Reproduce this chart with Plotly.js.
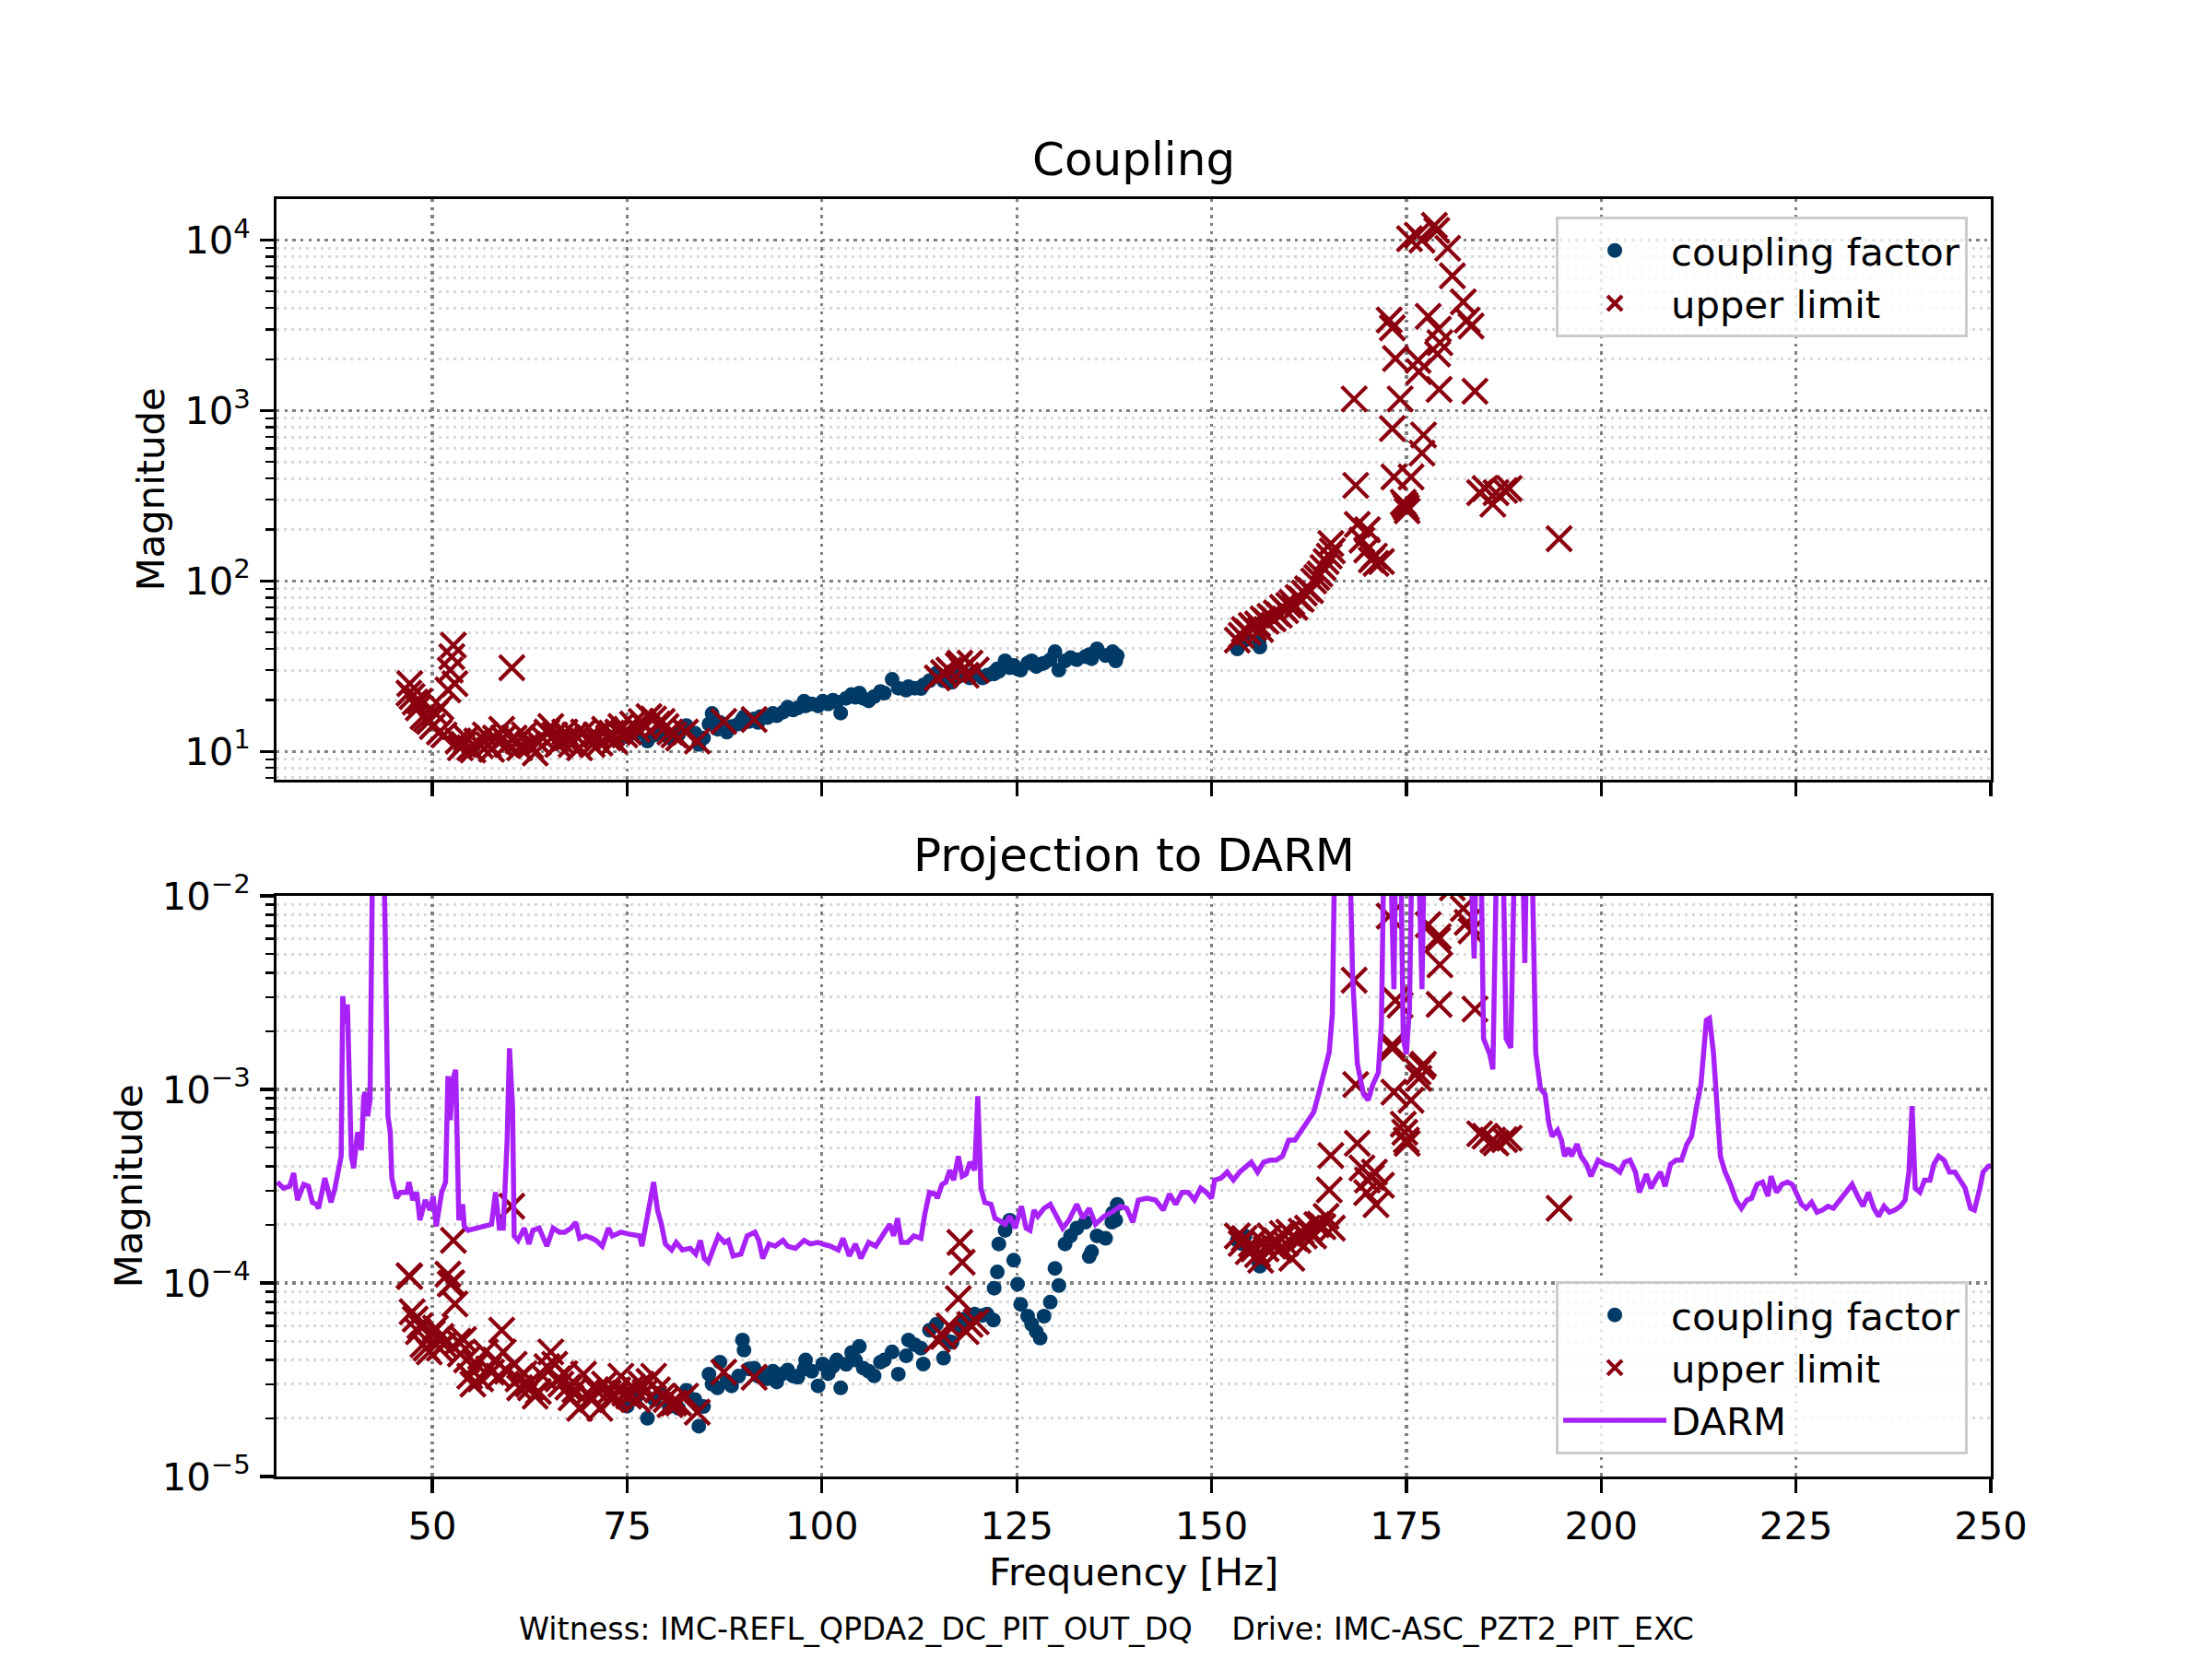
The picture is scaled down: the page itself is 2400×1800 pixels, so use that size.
<!DOCTYPE html>
<html><head><meta charset="utf-8">
<script src="https://cdn.plot.ly/plotly-3.0.1.min.js"></script>
<style>html,body{margin:0;padding:0;background:#fff}</style>
</head><body>
<div id="chart" style="width:2400px;height:1800px"></div>
<script>
// ---------- DATA ----------
const cfFreq = [75.0,76.2,77.6,78.5,79.3,80.4,81.6,82.6,83.7,84.2,84.8,85.5,85.9,86.6,86.9,87.8,88.4,89.3,89.8,90.0,90.6,91.3,91.8,92.1,93.0,93.7,94.2,95.0,95.6,96.3,96.9,97.7,97.9,98.7,99.5,100.1,100.8,101.4,101.9,102.4,103.1,103.8,104.3,104.8,105.3,106.0,106.7,107.5,108.0,109.0,109.8,110.8,111.1,111.9,112.7,113.0,113.8,114.7,115.6,116.2,116.7,117.5,118.3,119.0,119.6,120.6,121.2,122.0,122.1,122.5,122.7,123.5,124.1,124.6,125.1,125.5,126.4,126.9,127.5,128.0,128.5,129.3,129.9,130.4,131.2,131.9,132.7,133.8,134.3,134.6,135.3,136.4,137.2,137.3,137.7,137.9,153.3,153.8,154.3,156.1,156.2];
const cfCoupling = [12.2,12.8,11.5,12.5,13.0,12.0,12.6,14.2,12.8,11.0,12.0,14.5,16.7,13.5,14.8,13.0,14.0,14.5,15.5,16.0,15.0,15.5,14.8,16.0,15.8,16.7,16.2,17.0,18.2,17.5,18.0,19.7,18.5,19.0,18.5,19.7,19.0,20.0,19.5,16.8,20.5,21.6,20.8,22.0,20.5,19.8,21.0,22.5,22.0,26.5,23.5,22.9,24.0,23.5,23.4,24.5,26.0,28.8,26.0,27.0,25.5,27.5,28.0,27.0,29.0,27.0,28.0,29.0,28.5,30.5,29.5,34.0,31.0,32.0,30.5,30.0,33.0,34.0,31.5,32.5,33.0,34.5,38.5,30.0,34.0,35.5,34.5,36.0,37.0,35.0,40.0,36.5,37.5,38.5,34.0,36.5,40.0,44.0,45.0,43.6,41.0];
const cfProjection = [2.31e-5,2.6e-5,2.0e-5,2.5e-5,2.7e-5,2.3e-5,2.25e-5,2.79e-5,2.5e-5,1.82e-5,2.3e-5,3.38e-5,3.0e-5,2.87e-5,3.9e-5,3.1e-5,2.94e-5,3.3e-5,5.07e-5,4.5e-5,3.6e-5,3.63e-5,3.3e-5,3.38e-5,3.2e-5,3.5e-5,3.08e-5,3.4e-5,3.55e-5,3.3e-5,3.26e-5,3.6e-5,4.0e-5,3.5e-5,2.94e-5,3.81e-5,3.4e-5,3.7e-5,4.0e-5,2.87e-5,3.8e-5,4.37e-5,4.0e-5,4.7e-5,3.63e-5,3.5e-5,3.31e-5,3.9e-5,4.0e-5,4.4e-5,3.38e-5,4.2e-5,5.07e-5,4.8e-5,4.6e-5,3.81e-5,5.7e-5,6.12e-5,4.09e-5,5.0e-5,4.94e-5,6.0e-5,6.5e-5,6.6e-5,6.9e-5,6.8e-5,6.9e-5,6.43e-5,9.4e-5,1.14e-4,1.59e-4,1.87e-4,2.11e-4,1.31e-4,9.86e-5,7.76e-5,6.74e-5,6.12e-5,5.6e-5,5.19e-5,6.74e-5,7.96e-5,1.19e-4,9.7e-5,1.59e-4,1.75e-4,1.92e-4,2.06e-4,1.37e-4,1.45e-4,1.75e-4,1.70e-4,2.06e-4,2.3e-4,2.11e-4,2.55e-4,1.66e-4,1.6e-4,1.75e-4,1.25e-4,1.22e-4];

const ulFreq = [47.0,47.1,47.4,47.8,48.2,48.4,48.8,49.2,49.6,50.0,50.4,50.9,51.1,51.5,52.0,52.3,52.5,52.7,52.9,53.3,53.6,54.0,54.4,54.8,55.2,55.7,56.2,56.8,57.2,57.6,58.1,58.5,58.9,59.1,59.6,60.2,60.5,61.0,61.2,61.8,62.3,62.6,63.2,63.6,64.2,64.7,65.2,65.7,66.1,66.5,67.0,67.4,67.8,68.3,68.9,69.4,69.9,70.5,71.0,71.5,72.1,72.6,73.0,73.4,73.8,74.2,74.7,75.2,75.7,76.3,76.8,77.3,77.8,78.4,78.9,79.5,80.0,80.5,81.0,81.6,82.5,84.0,87.4,91.3,114.8,115.6,116.3,117.5,117.7,118.0,118.5,119.0,119.8,153.3,153.8,154.2,154.7,155.1,155.4,155.9,156.3,156.6,157.0,157.5,157.9,158.3,158.7,159.1,159.5,159.9,160.3,160.7,161.1,161.5,161.9,162.3,162.7,163.1,163.5,163.9,164.3,164.7,165.1,165.3,165.5,168.3,168.5,168.7,169.3,169.9,170.0,170.5,170.9,171.1,171.8,172.8,173.2,173.2,173.4,173.6,174.2,174.6,174.8,175.0,175.1,175.4,175.6,176.4,176.5,176.6,177.0,177.0,177.2,177.8,178.6,178.9,179.0,179.1,179.2,179.3,180.3,180.9,182.3,182.8,183.3,183.8,184.4,185.1,186.1,186.5,187.6,188.2,194.6];
const ulCoupling = [22,25,21,19.5,18,19.7,16,15.5,15,14,16.7,13,18.2,12.5,23,30,36,42,25,11.5,10.5,11,12,10.5,10.2,11.5,10.8,12.5,11,10.3,12,11.3,13.5,12,11,31,12,11.5,10.5,12.5,11,10.8,9.8,11.3,12,13,14,12.5,11,11.5,13,12,11,12.5,10.5,13,11.8,11,12.5,11.2,13.5,12,12.8,11.5,13,14,12.5,13,14.5,13.5,15,14,16,15.5,14.5,15,14,13,12.5,12,13,11.5,15,15.4,27,29,30,32,33,30,28,33,30,45,48,52,50,55,53,56,52,60,58,62,60,65,63,70,67,72,75,70,80,78,85,90,88,100,105,110,120,130,140,166,150,1170,364,215,174,152,200,133,140,127,130,3400,3060,785,408,2020,1170,290,280,270,258,10200,408,10700,1970,1690,10000,563,720,3570,12200,11400,2150,3000,1330,2500,8960,6170,4350,3400,3130,1300,330,349,282,330,340,349,177];
const ulProjection = [1.09e-4,1.08e-4,7.1e-5,6.5e-5,5.6e-5,6.0e-5,4.8e-5,4.6e-5,4.4e-5,5.5e-5,5.85e-5,4.6e-5,5.3e-5,4.8e-5,1.11e-4,9.9e-5,1.0e-4,1.66e-4,7.8e-5,5.0e-5,4.3e-5,5.1e-5,4.0e-5,3.3e-5,3.0e-5,3.8e-5,3.2e-5,4.4e-5,3.6e-5,3.46e-5,4.0e-5,3.3e-5,5.7e-5,4.4e-5,3.5e-5,2.49e-4,3.8e-5,3.2e-5,2.87e-5,3.4e-5,3.0e-5,2.87e-5,2.6e-5,2.75e-5,3.3e-5,3.7e-5,4.4e-5,3.8e-5,3.2e-5,3.0e-5,3.4e-5,2.9e-5,2.55e-5,2.8e-5,2.25e-5,3.38e-5,2.7e-5,2.5e-5,2.8e-5,2.25e-5,3.0e-5,2.7e-5,2.5e-5,2.6e-5,2.8e-5,3.3e-5,2.7e-5,2.6e-5,2.9e-5,2.5e-5,3.0e-5,2.73e-5,3.1e-5,3.3e-5,2.8e-5,2.6e-5,2.5e-5,2.35e-5,2.4e-5,2.4e-5,2.6e-5,2.15e-5,3.46e-5,3.26e-5,5.1e-5,5.3e-5,6.0e-5,8.3e-5,1.62e-4,1.28e-4,5.6e-5,6.1e-5,6.3e-5,1.75e-4,1.6e-4,1.7e-4,1.45e-4,1.59e-4,1.5e-4,1.4e-4,1.31e-4,1.62e-4,1.5e-4,1.75e-4,1.55e-4,1.65e-4,1.48e-4,1.8e-4,1.6e-4,1.83e-4,1.34e-4,1.7e-4,1.66e-4,1.85e-4,1.75e-4,1.92e-4,1.8e-4,1.75e-4,2.0e-4,2.01e-4,1.95e-4,2.21e-4,3.03e-4,4.55e-4,1.92e-4,3.67e-3,1.06e-3,5.26e-4,3.93e-4,2.93e-4,3.4e-4,3.52e-4,3.74e-4,2.54e-4,3.2e-4,7.85e-3,1.63e-3,1.7e-3,9.68e-4,2.89e-3,2.73e-3,6.61e-4,6.0e-4,5.47e-4,5.26e-4,1.3e-2,8.8e-4,1.4e-2,1.23e-3,1.14e-3,1.5e-2,1.31e-3,1.35e-3,7.1e-3,1.6e-2,1.5e-2,5.9e-3,6.16e-3,2.75e-3,4.4e-3,1.2e-2,1.1e-2,8.6e-3,7.3e-3,6.6e-3,2.6e-3,5.9e-4,5.73e-4,5.47e-4,5.3e-4,5.5e-4,5.6e-4,2.43e-4];

const darmFreq = [30.1,30.9,31.7,32.2,32.7,33.5,34.1,34.6,35.1,35.4,36.2,37.0,37.5,38.0,38.3,38.5,38.8,39.1,39.4,39.6,39.9,40.4,40.9,41.2,41.4,41.7,42.0,42.4,43.0,43.6,43.9,44.1,44.3,44.6,44.8,45.4,45.9,46.7,47.0,47.5,48.0,48.4,49.1,49.7,50.1,50.5,51.2,51.7,52.0,52.3,52.6,53.0,53.2,53.4,53.9,54.1,54.6,55.7,56.8,57.6,58.1,58.6,59.1,59.6,59.9,60.3,60.5,61.0,61.8,62.4,62.9,63.7,64.7,65.5,66.3,67.0,67.8,68.4,68.9,69.7,70.5,71.0,71.8,72.6,73.1,74.2,75.2,76.6,76.9,77.4,77.9,78.4,78.9,79.4,79.9,80.7,81.3,82.1,83.1,83.8,84.4,84.9,85.4,86.2,86.7,87.5,88.0,88.6,89.6,90.4,91.4,91.9,92.4,93.2,94.0,95.0,95.6,96.6,97.7,98.5,99.5,100.3,101.1,102.1,102.7,103.5,104.3,105.0,106.0,106.9,107.7,108.2,108.7,109.2,109.7,110.2,111.0,111.8,112.7,113.2,113.8,114.6,114.8,115.4,115.9,116.4,116.9,117.5,118.0,118.5,119.0,119.6,120.0,120.4,120.9,121.7,122.2,122.7,123.5,124.1,124.8,125.6,126.2,126.7,127.2,127.7,128.5,129.3,130.1,130.9,131.7,132.7,133.5,134.3,135.1,136.2,137.2,138.3,139.1,139.9,140.6,141.7,142.8,143.8,144.6,145.4,146.2,147.0,147.8,148.6,149.3,150.0,150.4,151.2,152.0,152.8,153.6,154.3,155.1,155.9,156.7,157.5,158.3,159.1,159.9,160.7,161.5,162.3,163.1,163.8,164.6,165.1,165.5,165.9,166.8,167.6,168.1,168.7,169.5,170.1,170.7,171.4,171.8,172.2,172.8,173.4,173.7,174.2,174.6,175.0,175.4,175.8,176.4,177.0,177.4,178.5,180.0,181.5,183.0,183.7,184.1,184.5,184.9,185.7,186.1,186.7,187.3,187.8,188.4,189.0,189.8,190.2,190.5,191.0,191.6,192.2,192.8,193.3,193.7,194.4,194.9,195.3,195.8,196.2,196.9,197.4,198.1,198.7,199.6,200.5,201.4,202.4,203.0,203.7,204.4,204.9,205.8,206.4,207.1,207.6,208.2,208.9,209.6,210.3,211.0,211.6,212.3,212.8,213.5,213.9,214.4,214.8,215.3,215.9,216.6,217.3,218.0,218.7,219.3,220.0,220.7,221.4,221.8,222.5,223.2,223.9,224.5,225.0,225.7,226.3,227.0,227.7,228.4,229.1,229.8,230.4,231.3,232.2,232.9,233.6,234.3,235.0,235.6,236.3,237.0,237.7,238.4,239.0,239.5,239.9,240.3,240.9,241.5,242.2,242.7,243.3,244.0,244.7,245.4,246.1,246.7,247.4,247.9,248.6,249.0,249.7,250.0];
const darmASD = [3.32e-4,3.09e-4,3.16e-4,3.70e-4,2.68e-4,3.23e-4,3.16e-4,2.61e-4,2.55e-4,2.43e-4,3.48e-4,2.61e-4,3.09e-4,4.11e-4,4.52e-4,3.03e-3,2.2e-3,2.75e-3,1.2e-3,4.52e-4,3.92e-4,6.01e-4,4.85e-4,9.22e-4,9.68e-4,7.27e-4,8.8e-4,3e-2,5e-2,3e-2,8.6e-3,1.71e-3,7.27e-4,6.01e-4,3.48e-4,2.74e-4,2.94e-4,2.94e-4,3.32e-4,2.68e-4,2.94e-4,2.11e-4,2.68e-4,2.38e-4,2.81e-4,1.96e-4,2.94e-4,3.32e-4,1.17e-3,6.93e-4,1.12e-3,1.26e-3,6.61e-4,2.11e-4,2.55e-4,1.96e-4,1.87e-4,1.92e-4,1.96e-4,2.01e-4,2.94e-4,1.92e-4,1.92e-4,5.47e-4,1.63e-3,8.0e-4,1.75e-4,1.66e-4,1.92e-4,1.59e-4,1.87e-4,1.92e-4,1.55e-4,1.92e-4,1.83e-4,1.83e-4,1.92e-4,2.06e-4,1.70e-4,1.75e-4,1.70e-4,1.66e-4,1.55e-4,1.92e-4,1.75e-4,1.83e-4,1.79e-4,1.75e-4,1.55e-4,2.01e-4,2.68e-4,3.32e-4,2.38e-4,2.01e-4,1.59e-4,1.48e-4,1.62e-4,1.48e-4,1.51e-4,1.41e-4,1.66e-4,1.34e-4,1.28e-4,1.59e-4,1.75e-4,1.62e-4,1.66e-4,1.38e-4,1.41e-4,1.75e-4,1.83e-4,1.66e-4,1.34e-4,1.59e-4,1.55e-4,1.66e-4,1.55e-4,1.51e-4,1.66e-4,1.59e-4,1.62e-4,1.58e-4,1.55e-4,1.48e-4,1.70e-4,1.38e-4,1.59e-4,1.34e-4,1.62e-4,1.55e-4,1.75e-4,1.87e-4,2.01e-4,1.75e-4,2.16e-4,1.62e-4,1.62e-4,1.75e-4,1.70e-4,2.27e-4,2.94e-4,2.88e-4,2.74e-4,3.23e-4,3.32e-4,3.83e-4,3.40e-4,4.52e-4,3.56e-4,3.65e-4,4.21e-4,3.83e-4,9.22e-4,3.09e-4,2.61e-4,2.55e-4,2.16e-4,2.11e-4,2.01e-4,2.21e-4,1.92e-4,2.49e-4,1.92e-4,1.87e-4,2.38e-4,2.21e-4,2.43e-4,2.55e-4,2.21e-4,1.92e-4,2.11e-4,2.55e-4,2.16e-4,2.43e-4,2.01e-4,2.21e-4,2.32e-4,2.49e-4,2.43e-4,2.06e-4,2.68e-4,2.74e-4,2.68e-4,2.38e-4,2.88e-4,2.55e-4,2.94e-4,2.94e-4,2.68e-4,3.09e-4,2.94e-4,2.74e-4,3.40e-4,3.48e-4,3.74e-4,3.40e-4,3.74e-4,3.92e-4,4.21e-4,3.74e-4,4.21e-4,4.31e-4,4.31e-4,4.52e-4,5.47e-4,5.47e-4,6.16e-4,6.93e-4,7.62e-4,9.68e-4,1.29e-3,1.56e-3,2.46e-3,3e-2,5e-2,3e-2,3.81e-3,1.36e-3,9.47e-4,8.8e-4,1.06e-3,1.22e-3,2.2e-3,3e-2,3e-2,3.30e-3,3e-2,3e-2,1.83e-3,1.52e-3,2.64e-3,3e-2,3e-2,3.30e-3,3e-2,4e-2,4e-2,4e-2,3e-2,4.75e-3,3e-2,3e-2,1.83e-3,1.52e-3,1.27e-3,3e-2,3e-2,1.83e-3,1.64e-3,3e-2,3e-2,4.5e-3,3e-2,3e-2,1.55e-3,1.01e-3,9.45e-4,6.61e-4,5.73e-4,6.16e-4,5.47e-4,4.52e-4,4.97e-4,4.52e-4,5.21e-4,4.52e-4,4.11e-4,3.56e-4,4.31e-4,4.11e-4,4.01e-4,3.74e-4,4.21e-4,4.31e-4,3.74e-4,2.94e-4,3.65e-4,3.09e-4,3.48e-4,3.74e-4,3.16e-4,4.11e-4,4.31e-4,4.31e-4,5.21e-4,5.73e-4,8.39e-4,1.06e-3,2.28e-3,2.33e-3,1.56e-3,8.0e-4,4.52e-4,3.74e-4,3.23e-4,2.68e-4,2.43e-4,2.68e-4,2.74e-4,3.23e-4,3.32e-4,2.81e-4,3.56e-4,2.94e-4,3.23e-4,3.32e-4,3.23e-4,2.94e-4,2.55e-4,2.43e-4,2.61e-4,2.32e-4,2.38e-4,2.49e-4,2.43e-4,2.61e-4,2.88e-4,3.23e-4,2.81e-4,2.49e-4,2.94e-4,2.43e-4,2.21e-4,2.49e-4,2.32e-4,2.38e-4,2.49e-4,2.68e-4,3.74e-4,8.2e-4,3.09e-4,2.94e-4,3.40e-4,3.40e-4,4.11e-4,4.52e-4,4.31e-4,3.74e-4,3.74e-4,3.40e-4,3.09e-4,2.43e-4,2.38e-4,3.09e-4,3.74e-4,4.01e-4,4.01e-4];

const xTickVals = [50,75,100,125,150,175,200,225,250];
const xTickText = ['50','75','100','125','150','175','200','225','250'];
const yTopTickVals = [10,100,1000,10000];
const yTopTickText = ['10<sup>1</sup>','10<sup>2</sup>','10<sup>3</sup>','10<sup>4</sup>'];
const yBotTickVals = [1e-5,1e-4,1e-3,1e-2];
const yBotTickText = ['10<sup>\u22125</sup>','10<sup>\u22124</sup>','10<sup>\u22123</sup>','10<sup>\u22122</sup>'];

// ---------- STYLE ----------
const FONT = 'DejaVu Sans, Verdana, sans-serif';
const TICKFS = 41.7;
const C_CF = '#003a66', C_UL = '#8b000f', C_DARM = '#a822f8';
const XDOM = [0.125, 0.9];

function minorVals(lo, hi) {
  const out = [];
  for (let e = Math.floor(Math.log10(lo)); e <= Math.ceil(Math.log10(hi)); e++) {
    for (let m = 2; m <= 9; m++) { const v = m * Math.pow(10, e); if (v >= lo && v <= hi) out.push(v); }
  }
  return out;
}
function xAxis(anchor, showLabels) {
  return {domain: XDOM, anchor, range: [30, 250], tickmode: 'array', tickvals: xTickVals, ticktext: xTickText,
    showticklabels: showLabels, ticks: 'outside', ticklen: 14.6, tickwidth: 3.3, tickcolor: '#000',
    showline: true, linecolor: '#000', linewidth: 3.3, mirror: true, showgrid: true, gridcolor: '#808080',
    gridwidth: 3.3, griddash: '3.3px,5.4px', zeroline: false, ticklabelstandoff: 0,
    tickfont: {family: FONT, size: TICKFS, color: '#000'}};
}
function yAxis(domain, anchor, range, tv, tt) {
  const lo = Math.pow(10, range[0]), hi = Math.pow(10, range[1]);
  return {domain, anchor, type: 'log', range, tickmode: 'array', tickvals: tv, ticktext: tt,
    ticks: 'outside', ticklen: 14.6, tickwidth: 3.3, tickcolor: '#000',
    showline: true, linecolor: '#000', linewidth: 3.3, mirror: true, showgrid: true, gridcolor: '#808080',
    gridwidth: 3.3, griddash: '3.3px,5.4px', zeroline: false, ticklabelstandoff: 2,
    tickfont: {family: FONT, size: TICKFS, color: '#000'},
    minor: {tickmode: 'array', tickvals: minorVals(lo, hi), ticks: 'outside', ticklen: 8.3, tickwidth: 2.5,
      tickcolor: '#000', showgrid: true, gridcolor: '#d8d8d8', gridwidth: 3, griddash: '3px,5px'}};
}
const cfMarker = {symbol: 'circle', size: 16, color: C_CF, line: {width: 0}};
const ulMarker = {symbol: 'x-thin', size: 27, color: C_UL, line: {width: 4.2, color: C_UL}};

const traces = [
  {x: cfFreq, y: cfCoupling, xaxis: 'x', yaxis: 'y', mode: 'markers', marker: cfMarker, name: 'coupling factor', legend: 'legend'},
  {x: ulFreq, y: ulCoupling, xaxis: 'x', yaxis: 'y', mode: 'markers', marker: ulMarker, name: 'upper limit', legend: 'legend'},
  {x: cfFreq, y: cfProjection, xaxis: 'x2', yaxis: 'y2', mode: 'markers', marker: cfMarker, name: 'coupling factor', legend: 'legend2'},
  {x: ulFreq, y: ulProjection, xaxis: 'x2', yaxis: 'y2', mode: 'markers', marker: ulMarker, name: 'upper limit', legend: 'legend2'},
  {x: darmFreq, y: darmASD, xaxis: 'x2', yaxis: 'y2', mode: 'lines', line: {color: C_DARM, width: 5.5}, name: 'DARM', legend: 'legend2'}
];

const legendBase = {xanchor: 'right', x: 0.8896, bgcolor: 'rgba(255,255,255,0.8)', bordercolor: '#cccccc',
  borderwidth: 3, font: {family: FONT, size: TICKFS, color: '#000'}, itemwidth: 112, tracegroupgap: 0};

const ann = (text, x, y, size, extra) => Object.assign({text, x, y, xref: 'paper', yref: 'paper', showarrow: false,
  xanchor: 'center', yanchor: 'middle', font: {family: FONT, size, color: '#000'}}, extra || {});

const layout = {
  width: 2400, height: 1800, margin: {l: 0, r: 0, t: 0, b: 0}, paper_bgcolor: '#fff', plot_bgcolor: '#fff',
  showlegend: true,
  xaxis: xAxis('y', false),
  yaxis: yAxis([0.53, 0.88], 'x', [0.834, 4.241], yTopTickVals, yTopTickText),
  xaxis2: xAxis('y2', true),
  yaxis2: yAxis([0.11, 0.46], 'x2', [-5, -2], yBotTickVals, yBotTickText),
  legend: Object.assign({}, legendBase, {y: 0.8694, yanchor: 'top'}),
  legend2: Object.assign({}, legendBase, {y: 0.1233, yanchor: 'bottom'}),
  annotations: [
    ann('Coupling', 0.5125, 0.9039, 50),
    ann('Projection to DARM', 0.5125, 0.4844, 50),
    ann('Frequency [Hz]', 0.5125, 0.0525, TICKFS),
    ann('Magnitude', 0.068, 0.705, TICKFS, {textangle: -90}),
    ann('Magnitude', 0.058, 0.285, TICKFS, {textangle: -90}),
    ann('Witness: IMC-REFL_QPDA2_DC_PIT_OUT_DQ&nbsp;&nbsp;&nbsp;&nbsp;Drive: IMC-ASC_PZT2_PIT_EXC', 0.5, 0.0178, 33.4)
  ]
};

Plotly.newPlot('chart', traces, layout, {staticPlot: true, displayModeBar: false});
</script>
</body></html>
